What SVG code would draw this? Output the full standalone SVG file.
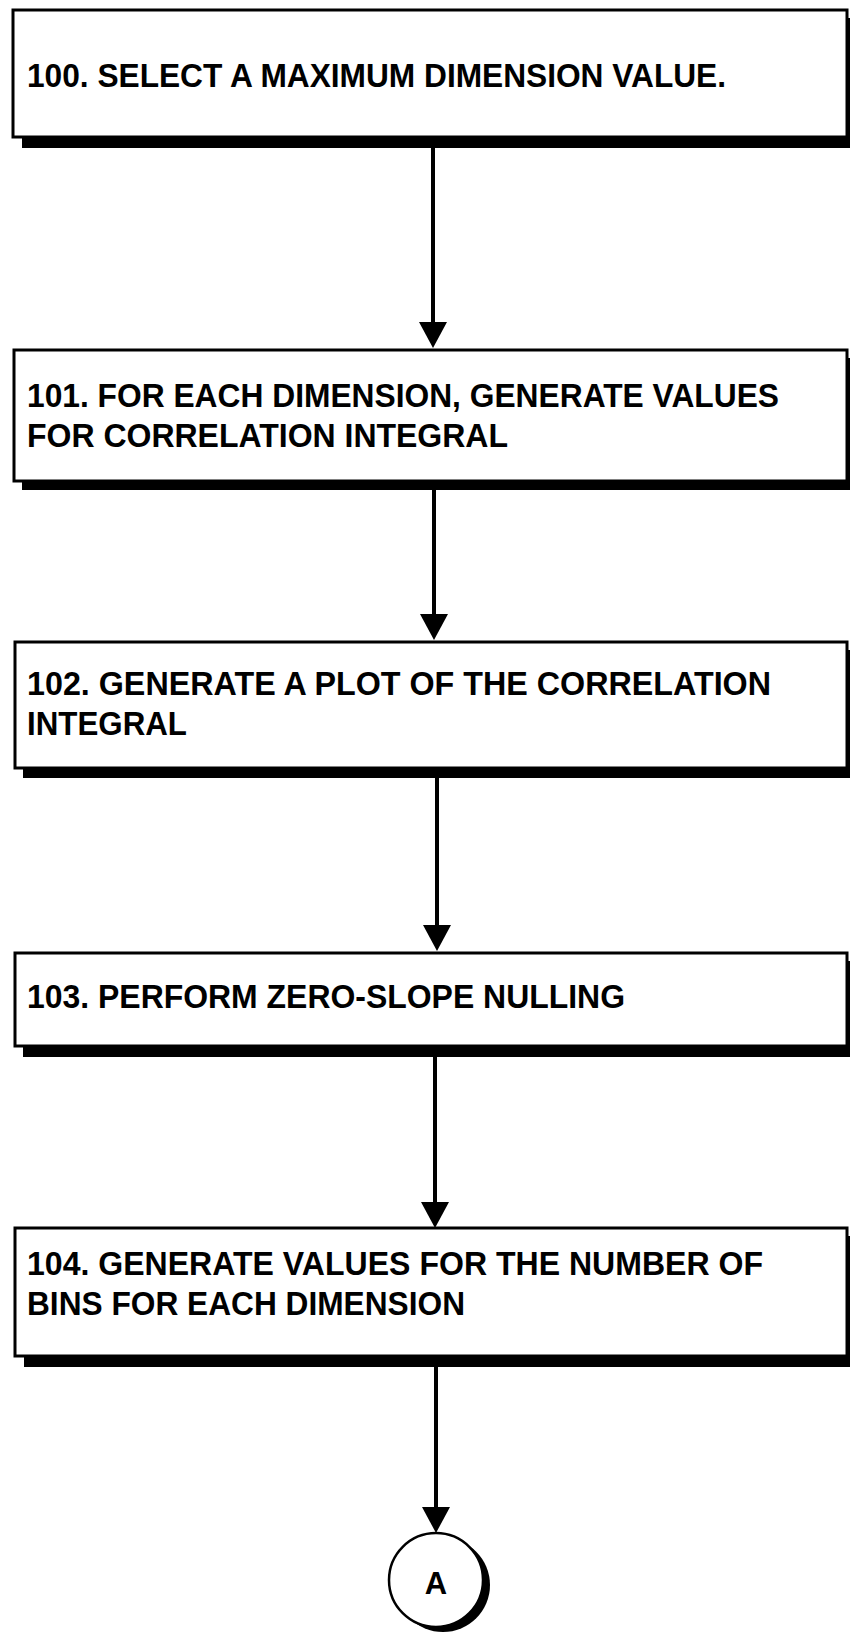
<svg xmlns="http://www.w3.org/2000/svg" width="850" height="1634" viewBox="0 0 850 1634">
  <style>
    .box { fill: #fff; stroke: #000; stroke-width: 3; }
    .shadow { fill: #000; }
    .lbl { font-family: "Liberation Sans", Arial, sans-serif; font-weight: bold; font-size: 33px; fill: #000; }
    .conn { stroke: #000; stroke-width: 4; fill: none; }
  </style>
  <defs>
    <marker id="arrow" markerUnits="userSpaceOnUse" viewBox="0 -14 26 28" refX="0" refY="0" markerWidth="26" markerHeight="28" orient="auto">
      <path d="M0,-14 L26,0 L0,14 Z" fill="#000"/>
    </marker>
  </defs>
  <rect x="0" y="0" width="850" height="1634" fill="#fff"/>

  <g id="connectors">
    <line class="conn" x1="433" y1="147" x2="433" y2="322" marker-end="url(#arrow)"/>
    <line class="conn" x1="434" y1="490" x2="434" y2="614" marker-end="url(#arrow)"/>
    <line class="conn" x1="437" y1="778" x2="437" y2="925" marker-end="url(#arrow)"/>
    <line class="conn" x1="435" y1="1057" x2="435" y2="1202" marker-end="url(#arrow)"/>
    <line class="conn" x1="436" y1="1367" x2="436" y2="1507" marker-end="url(#arrow)"/>
  </g>

  <g id="node100">
    <rect class="shadow" x="22" y="18" width="834" height="130"/>
    <rect class="box" x="13" y="10" width="834" height="127"/>
    <text class="lbl" x="27" y="87" textLength="699" lengthAdjust="spacingAndGlyphs">100. SELECT A MAXIMUM DIMENSION VALUE.</text>
  </g>

  <g id="node101">
    <rect class="shadow" x="22" y="358" width="834" height="132"/>
    <rect class="box" x="14" y="350" width="833" height="131"/>
    <text class="lbl" x="27" y="407" textLength="752" lengthAdjust="spacingAndGlyphs">101. FOR EACH DIMENSION, GENERATE VALUES</text>
    <text class="lbl" x="27" y="447" textLength="481" lengthAdjust="spacingAndGlyphs">FOR CORRELATION INTEGRAL</text>
  </g>

  <g id="node102">
    <rect class="shadow" x="23" y="650" width="834" height="128"/>
    <rect class="box" x="15" y="642" width="832" height="126"/>
    <text class="lbl" x="27" y="695" textLength="744" lengthAdjust="spacingAndGlyphs">102. GENERATE A PLOT OF THE CORRELATION</text>
    <text class="lbl" x="27" y="735" textLength="160" lengthAdjust="spacingAndGlyphs">INTEGRAL</text>
  </g>

  <g id="node103">
    <rect class="shadow" x="23" y="961" width="834" height="96"/>
    <rect class="box" x="15" y="953" width="832" height="93"/>
    <text class="lbl" x="27" y="1008" textLength="598" lengthAdjust="spacingAndGlyphs">103. PERFORM ZERO-SLOPE NULLING</text>
  </g>

  <g id="node104">
    <rect class="shadow" x="24" y="1236" width="834" height="131"/>
    <rect class="box" x="15" y="1228" width="832" height="128"/>
    <text class="lbl" x="27" y="1275" textLength="736" lengthAdjust="spacingAndGlyphs">104. GENERATE VALUES FOR THE NUMBER OF</text>
    <text class="lbl" x="27" y="1315" textLength="438" lengthAdjust="spacingAndGlyphs">BINS FOR EACH DIMENSION</text>
  </g>

  <g id="connectorA">
    <circle class="shadow" cx="443" cy="1585" r="47"/>
    <circle cx="436" cy="1580" r="47" fill="#fff" stroke="#000" stroke-width="2.5"/>
    <text x="436" y="1594" text-anchor="middle" font-family="Liberation Sans, Arial, sans-serif" font-weight="bold" font-size="31">A</text>
  </g>
</svg>
